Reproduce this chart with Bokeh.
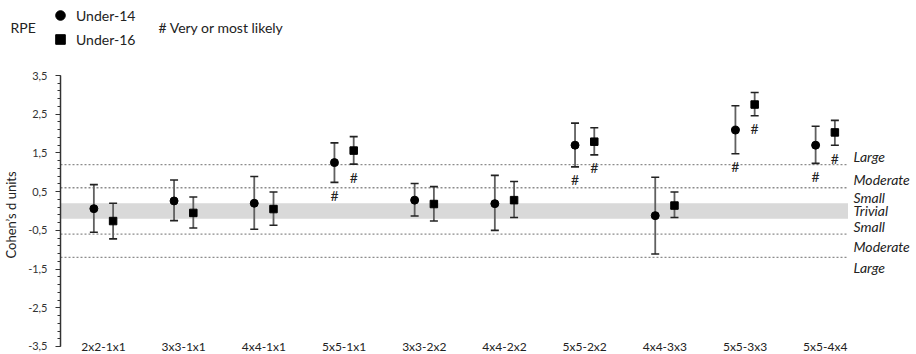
from bokeh.plotting import figure
from bokeh.layouts import column, row
from bokeh.models import (Range1d, FixedTicker, Whisker, ColumnDataSource, Span,
                          BoxAnnotation, Legend, LegendItem, TeeHead)
from bokeh.core.properties import value
from bokeh.embed import file_html
from bokeh.resources import INLINE

categories = ["2x2-1x1", "3x3-1x1", "4x4-1x1", "5x5-1x1", "3x3-2x2",
              "4x4-2x2", "5x5-2x2", "4x4-3x3", "5x5-3x3", "5x5-4x4"]
u14_mean = [0.06, 0.26, 0.20, 1.25, 0.28, 0.19, 1.70, -0.12, 2.09, 1.70]
u14_lo   = [-0.55, -0.25, -0.47, 0.74, -0.13, -0.50, 1.14, -1.11, 1.48, 1.23]
u14_hi   = [0.68, 0.80, 0.89, 1.76, 0.71, 0.92, 2.27, 0.87, 2.72, 2.19]
u16_mean = [-0.26, -0.05, 0.05, 1.56, 0.18, 0.28, 1.79, 0.14, 2.75, 2.03]
u16_lo   = [-0.72, -0.44, -0.37, 1.21, -0.26, -0.17, 1.45, -0.17, 2.46, 1.70]
u16_hi   = [0.20, 0.36, 0.49, 1.92, 0.63, 0.76, 2.15, 0.49, 3.06, 2.34]
u14_likely = [False, False, False, True, False, False, True, False, True, True]
u16_likely = [False, False, False, True, False, False, True, False, True, True]

thresholds = [1.2, 0.6, -0.6, -1.2]
trivial = (-0.2, 0.2)
zone_labels = ["Large", "Moderate", "Small", "Trivial", "Small", "Moderate", "Large"]
zone_label_y = [1.4, 0.82, 0.36, 0.0, -0.4, -0.92, -1.45]

y_ticks = [-3.5, -2.5, -1.5, -0.5, 0.5, 1.5, 2.5, 3.5]
FONT = "Lato"
TXT = "#222222"
DODGE = 0.12

# ---------------- header (legend) ----------------
HW, HH = 914, 55
hdr = figure(width=HW, height=HH, output_backend="svg", toolbar_location=None,
             x_range=Range1d(0, HW), y_range=Range1d(0, HH),
             x_axis_location=None, y_axis_location=None,
             min_border=0, min_border_left=0, min_border_right=0,
             min_border_top=0, min_border_bottom=0)
hdr.outline_line_color = None
hdr.xgrid.visible = False
hdr.ygrid.visible = False
# hidden renderers that only supply the legend swatches
e14 = hdr.scatter(x=[0], y=[0], marker="circle", size=12, color="black", visible=False)
e16 = hdr.scatter(x=[0], y=[0], marker="square", size=11, color="black", visible=False)
hdr.text(x=[10, 158], y=[28, 28], text=["RPE", "# Very or most likely"],
         text_font=value(FONT), text_font_size="14px", text_baseline="middle",
         text_align="left", text_color=TXT)
leg = Legend(items=[LegendItem(label="Under-14", renderers=[e14]),
                    LegendItem(label="Under-16", renderers=[e16])],
             location=(48, 4), orientation="vertical", click_policy="none",
             glyph_width=24, glyph_height=24, spacing=0, padding=0, margin=0,
             label_standoff=4, label_text_font=FONT, label_text_font_size="14px",
             label_text_color=TXT, label_text_baseline="middle",
             inactive_fill_alpha=0,
             border_line_alpha=0, background_fill_alpha=0)
hdr.add_layout(leg)

# ---------------- main chart ----------------
MH = 299
x_start, x_end = -0.536, 9.29
yr = Range1d(-3.707, 3.5)
p = figure(width=848, height=MH, output_backend="svg", toolbar_location=None,
           x_range=Range1d(x_start, x_end), y_range=yr,
           min_border_left=60, min_border_right=0, min_border_top=20,
           min_border_bottom=0)
p.outline_line_color = None
p.xgrid.visible = False
p.ygrid.visible = False
p.xaxis.visible = False

ax = p.yaxis[0]
ax.bounds = (-3.5, 3.5)
minor = [round(-3.5 + 0.2 * k, 2) for k in range(36)]
ax.ticker = FixedTicker(ticks=y_ticks, minor_ticks=minor)
ax.major_label_overrides = {t: f"{t:.1f}".replace(".", ",") for t in y_ticks}
ax.major_label_text_font = FONT
ax.major_label_text_font_size = "11px"
ax.major_label_text_color = "#333333"
ax.major_tick_out = 5
ax.major_tick_in = 0
ax.minor_tick_out = 3
ax.minor_tick_in = 0
ax.axis_line_color = "#333333"
ax.major_tick_line_color = "#333333"
ax.minor_tick_line_color = "#333333"
ax.axis_line_width = 1.5
ax.major_label_standoff = 8
ax.axis_label = "Cohen\u2019s d units"
ax.axis_label_text_font = FONT
ax.axis_label_text_font_size = "13px"
ax.axis_label_text_font_style = "normal"
ax.axis_label_text_color = TXT
ax.axis_label_standoff = 6

p.add_layout(BoxAnnotation(bottom=trivial[0], top=trivial[1], fill_color="#d9d9d9",
                           fill_alpha=1, line_color=None, level="underlay"))
for t in thresholds:
    p.add_layout(Span(location=t, dimension="width", line_color="#8c8c8c",
                      line_dash="2 2", line_width=1.3, level="underlay"))

xs = list(range(len(categories)))
src14 = ColumnDataSource(dict(x=[i - DODGE for i in xs], y=u14_mean, lo=u14_lo, hi=u14_hi))
src16 = ColumnDataSource(dict(x=[i + DODGE for i in xs], y=u16_mean, lo=u16_lo, hi=u16_hi))

for src in (src14, src16):
    p.add_layout(Whisker(source=src, base="x", lower="lo", upper="hi",
                         line_color="#606060", line_width=1.8,
                         upper_head=TeeHead(size=8, line_color="#222222", line_width=1.6),
                         lower_head=TeeHead(size=8, line_color="#222222", line_width=1.6)))

p.scatter("x", "y", source=src14, marker="circle", size=8, color="black")
p.scatter("x", "y", source=src16, marker="square", size=7.5, color="black")

hx, hy = [], []
for i in xs:
    if u14_likely[i]:
        hx.append(i - DODGE); hy.append(u14_lo[i])
    if u16_likely[i]:
        hx.append(i + DODGE); hy.append(u16_lo[i])
p.text(x=hx, y=hy, text=["#"] * len(hx), text_font=value(FONT),
       text_font_size="14px", text_align="center", text_baseline="middle",
       y_offset=13, text_color=TXT)

p.text(x=xs, y=[-3.5] * len(xs), text=categories, text_font=value(FONT),
       text_font_size="12px", text_align="center", text_baseline="middle",
       text_color=TXT)

# ---------------- right-hand zone labels ----------------
RW = HW - 848
side = figure(width=RW, height=MH, output_backend="svg", toolbar_location=None,
              x_range=Range1d(0, RW), y_range=yr,
              x_axis_location=None, y_axis_location=None,
              min_border_left=0, min_border_right=0, min_border_top=20,
              min_border_bottom=0)
side.outline_line_color = None
side.xgrid.visible = False
side.ygrid.visible = False
side.text(x=[5] * len(zone_labels), y=zone_label_y, text=zone_labels,
          text_font=value(FONT), text_font_size="14px", text_font_style="italic",
          text_align="left", text_baseline="middle", text_color=TXT)

layout = column(hdr, row(p, side, spacing=0), spacing=0)
open("out.html", "w").write(file_html(layout, INLINE))
